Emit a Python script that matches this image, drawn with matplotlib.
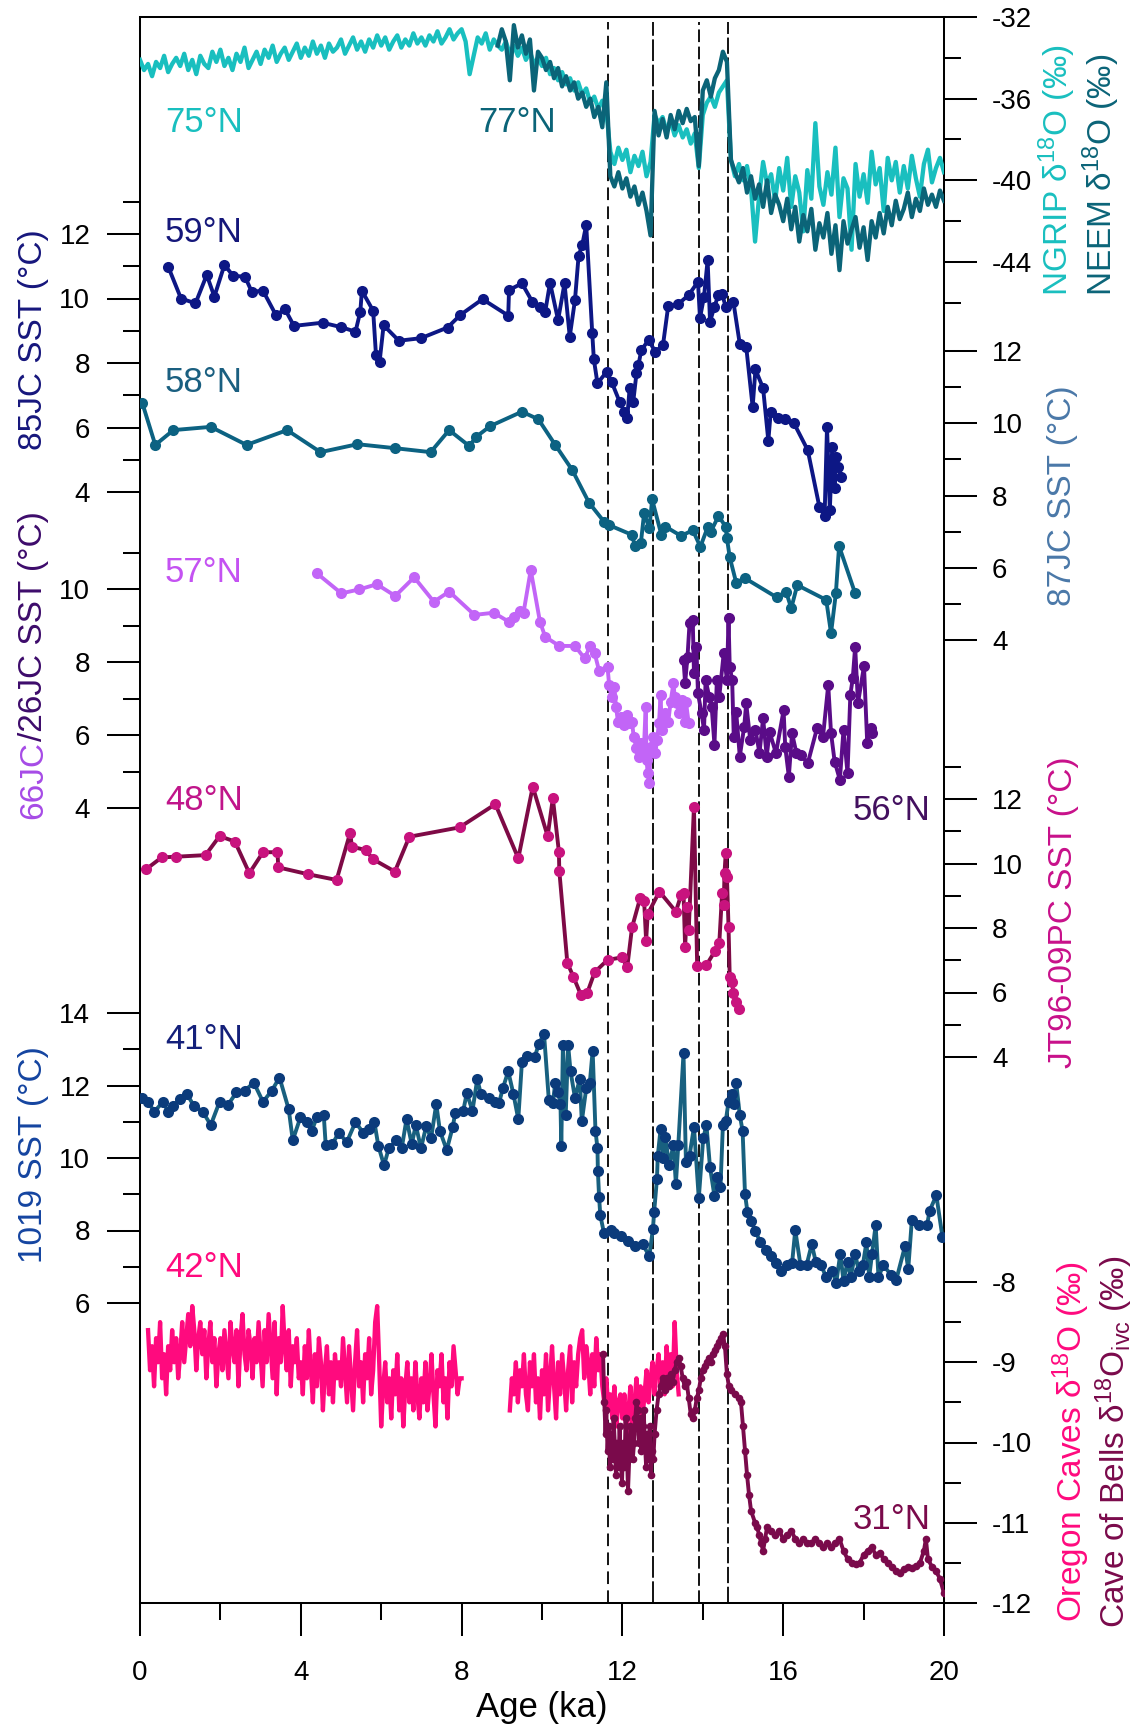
#!/usr/bin/env python3
"""Deglacial SST / d18O stack, 0-20 ka"""

import matplotlib
matplotlib.use("Agg")

import matplotlib.pyplot as plt
import numpy as np

plt.rcParams["font.family"] = ["Liberation Sans", "DejaVu Sans"]
plt.rcParams["mathtext.fontset"] = "custom"
plt.rcParams["mathtext.rm"] = "Liberation Sans"
plt.rcParams["mathtext.default"] = "regular"

# ---------------- data ----------------
# NGRIP d18O, 0-20 ka every 0.1 ka
ngrip_age = np.round(np.arange(0.0, 20.0001, 0.1), 2)
ngrip_d18o = [
    -34.1, -34.6, -34.3, -34.9, -34.2, -34.5, -33.9, -34.7, -34.3, -34.0,
    -34.4, -33.8, -34.6, -34.1, -34.8, -33.9, -34.3, -34.5, -33.7, -34.2,
    -33.6, -34.4, -34.0, -34.6, -33.8, -34.2, -33.5, -34.5, -34.1, -33.7,
    -34.3, -33.6, -34.0, -33.4, -34.2, -33.8, -33.5, -34.1, -33.7, -33.3,
    -34.0, -33.5, -33.9, -33.2, -33.8, -33.4, -34.0, -33.3, -33.7, -33.5,
    -33.1, -33.8, -33.4, -33.0, -33.6, -33.2, -33.7, -33.1, -33.5, -32.9,
    -33.4, -33.0, -33.6, -33.2, -32.9, -33.5, -33.1, -33.4, -32.8, -33.3,
    -33.0, -33.4, -32.9, -33.2, -32.7, -33.3, -33.0, -32.6, -33.1, -32.8,
    -32.6, -33.2, -34.8, -33.9, -33.0, -33.3, -32.8, -33.6, -33.1, -33.4,
    -33.6, -33.2, -33.8, -33.4, -33.9, -33.5, -34.1, -33.7, -34.3, -34.0,
    -34.4, -34.0, -34.8, -34.5, -35.1, -34.7, -35.3, -35.0, -35.6, -35.2,
    -35.8, -35.5, -36.2, -35.9, -36.5, -36.1, -36.6, -38.6, -39.2, -38.4,
    -39.0, -38.5, -39.6, -38.8, -39.3, -38.6, -39.8, -39.1, -36.8, -37.2,
    -36.9, -37.6, -37.1, -37.8, -37.3, -37.9, -37.5, -38.2, -37.7, -39.4,
    -36.8, -36.2, -35.9, -36.4, -35.7, -35.4, -35.1, -39.0, -39.8, -39.2,
    -40.0, -39.3, -40.4, -43.0, -40.8, -39.1, -40.2, -39.7, -41.0, -39.4,
    -40.5, -38.9, -41.3, -39.8, -40.6, -42.5, -39.5, -40.9, -37.2, -40.3,
    -41.2, -39.6, -40.7, -38.4, -41.8, -39.9, -40.4, -43.4, -39.2, -40.8,
    -39.7, -41.1, -38.6, -40.2, -39.4, -41.5, -38.9, -40.0, -39.1, -40.6,
    -39.3, -40.4, -38.8, -39.9, -40.8, -39.2, -38.5, -40.1, -39.4, -38.9,
    -39.6,
]

# NEEM d18O, 8.9-20 ka every 0.1 ka
neem_age = np.round(np.arange(8.9, 20.0001, 0.1), 2)
neem_d18o = [
    -33.4,
    -32.6, -33.2, -35.1, -32.4, -33.5, -32.9, -33.8, -33.1, -35.6, -33.7,
    -34.0, -34.6, -34.2, -35.0, -34.5, -35.4, -34.9, -35.6, -35.2, -36.0,
    -35.7, -36.4, -36.0, -36.9, -36.4, -37.4, -35.2, -39.8, -40.3, -39.6,
    -40.4, -39.9, -40.8, -40.3, -41.2, -40.6, -41.5, -42.7, -36.6, -37.8,
    -37.0, -37.9, -36.8, -37.5, -36.6, -37.2, -36.5, -37.1, -36.9, -39.3,
    -35.6, -35.1, -35.9, -35.0, -34.6, -33.7, -34.2, -39.0, -39.6, -40.1,
    -39.4, -40.6, -39.8, -40.9, -40.2, -41.3, -40.0, -41.6, -40.7, -41.2,
    -42.0, -40.9, -42.4, -41.3, -43.0, -41.7, -42.5, -41.4, -43.4, -42.1,
    -42.8, -41.6, -43.6, -42.2, -44.4, -42.0, -43.1, -42.4, -41.8, -43.3,
    -42.3, -43.9, -42.0, -42.8, -41.6, -42.6, -41.3, -42.2, -41.0, -41.9,
    -41.4, -40.6, -41.8, -40.9, -41.5, -40.4, -41.2, -40.7, -41.3, -40.5,
    -41.0,
]

# 85JC SST (59N)
jc85_age = [
    0.70, 1.02, 1.38, 1.66, 1.85, 2.10, 2.32, 2.61, 2.78, 3.06,
    3.38, 3.61, 3.83, 4.54, 5.01, 5.36, 5.48, 5.52, 5.80, 5.87,
    5.96, 6.06, 6.44, 6.99, 7.65, 7.97, 8.52, 9.16, 9.18, 9.50,
    9.76, 9.95, 10.08, 10.20, 10.40, 10.56, 10.69, 10.82, 10.91, 11.00,
    11.10, 11.25, 11.29, 11.38, 11.61, 11.73, 11.93, 12.05, 12.12, 12.18,
    12.27, 12.35, 12.40, 12.47, 12.65, 12.82, 13.01, 13.14, 13.39, 13.65,
    13.88, 13.93, 14.03, 14.12, 14.18, 14.29, 14.39, 14.48, 14.57, 14.76,
    14.92, 15.08, 15.24, 15.31, 15.50, 15.63, 15.69, 15.88, 16.05, 16.26,
    16.61, 16.90, 17.03, 17.09, 17.16, 17.22, 17.28, 17.32, 17.37, 17.45,
]
jc85_sst = [
    10.99, 10.00, 9.85, 10.73, 10.06, 11.04, 10.70, 10.68, 10.21, 10.24,
    9.49, 9.66, 9.15, 9.25, 9.11, 8.97, 9.59, 10.24, 9.62, 8.25,
    8.04, 9.17, 8.69, 8.77, 9.10, 9.49, 9.98, 9.47, 10.26, 10.47,
    9.90, 9.73, 9.59, 10.49, 9.33, 10.47, 8.82, 9.95, 11.32, 11.66,
    12.28, 8.92, 8.11, 7.37, 7.73, 7.42, 6.80, 6.49, 6.29, 7.22,
    6.80, 7.68, 7.94, 8.40, 8.71, 8.35, 8.56, 9.77, 9.83, 10.11,
    10.52, 9.39, 10.06, 11.19, 9.28, 9.75, 10.11, 10.13, 9.75, 9.90,
    8.59, 8.50, 6.64, 7.80, 7.22, 5.59, 6.49, 6.29, 6.25, 6.15,
    5.30, 3.54, 3.26, 6.02, 3.44, 5.40, 4.11, 5.09, 4.78, 4.47,
]

# 87JC SST (58N)
jc87_age = [
    0.06, 0.38, 0.83, 1.76, 2.65, 3.66, 4.49, 5.41, 6.34, 7.23,
    7.69, 8.19, 8.37, 8.71, 9.50, 9.91, 10.33, 10.75, 11.17, 11.54,
    11.67, 12.24, 12.31, 12.46, 12.54, 12.67, 12.74, 12.97, 13.07, 13.46,
    13.75, 13.94, 14.12, 14.20, 14.39, 14.57, 14.60, 14.67, 14.83, 15.05,
    15.84, 16.07, 16.20, 16.35, 17.07, 17.19, 17.31, 17.39, 17.79,
]
jc87_sst = [
    10.55, 9.40, 9.81, 9.90, 9.40, 9.81, 9.20, 9.42, 9.31, 9.20,
    9.81, 9.37, 9.63, 9.92, 10.32, 10.11, 9.40, 8.71, 7.80, 7.28,
    7.18, 6.91, 6.60, 6.69, 7.51, 7.09, 7.89, 6.91, 7.14, 6.88,
    7.04, 6.58, 7.12, 7.00, 7.43, 7.14, 6.82, 6.29, 5.59, 5.71,
    5.18, 5.34, 4.88, 5.52, 5.11, 4.19, 5.29, 6.60, 5.29,
]

# 66JC SST (57N)
jc66_age = [
    4.40, 5.01, 5.46, 5.89, 6.35, 6.82, 7.31, 7.69, 8.32, 8.80,
    9.18, 9.31, 9.46, 9.54, 9.72, 9.95, 10.08, 10.43, 10.82, 11.06,
    11.20, 11.31, 11.42, 11.63, 11.67, 11.73, 11.80, 11.84, 11.89, 11.96,
    12.05, 12.12, 12.18, 12.24, 12.28, 12.35, 12.41, 12.47, 12.53, 12.58,
    12.60, 12.63, 12.67, 12.70, 12.76, 12.82, 12.86, 12.91, 12.95, 12.98,
    13.07, 13.14, 13.20, 13.27, 13.30, 13.37, 13.42, 13.48, 13.55, 13.58,
    13.65,
]
jc66_sst = [
    10.43, 9.88, 9.99, 10.13, 9.81, 10.32, 9.65, 9.93, 9.29, 9.35,
    9.10, 9.24, 9.41, 9.35, 10.52, 9.10, 8.69, 8.44, 8.44, 8.10,
    8.44, 8.24, 7.76, 7.87, 7.37, 7.05, 7.32, 6.78, 6.36, 6.50,
    6.27, 6.55, 6.32, 6.36, 5.95, 5.64, 5.41, 5.77, 5.50, 6.78,
    5.32, 4.95, 4.68, 5.68, 5.95, 5.50, 5.86, 6.32, 7.10, 6.14,
    6.59, 6.36, 6.91, 7.42, 7.05, 6.87, 6.59, 6.96, 6.36, 6.91,
    6.32,
]

# 26JC SST (56N)
jc26_age = [
    13.52, 13.56, 13.62, 13.67, 13.75, 13.78, 13.84, 13.88, 13.97, 14.03,
    14.07, 14.16, 14.22, 14.29, 14.35, 14.41, 14.52, 14.60, 14.64, 14.67,
    14.73, 14.77, 14.83, 14.92, 15.03, 15.08, 15.18, 15.31, 15.41, 15.50,
    15.59, 15.66, 15.82, 16.01, 16.05, 16.14, 16.22, 16.33, 16.45, 16.61,
    16.84, 16.99, 17.12, 17.19, 17.28, 17.41, 17.50, 17.60, 17.67, 17.73,
    17.79, 17.86, 18.01, 18.09, 18.18, 18.21,
]
jc26_sst = [
    8.05, 7.42, 8.15, 9.06, 9.15, 7.69, 8.42, 7.14, 6.59, 6.14,
    7.51, 7.05, 6.78, 5.73, 7.51, 7.05, 8.24, 7.51, 9.20, 7.87,
    7.51, 5.95, 6.64, 5.41, 6.23, 6.87, 5.86, 6.14, 5.50, 6.46,
    5.41, 6.09, 5.50, 6.68, 5.68, 4.86, 6.05, 5.50, 5.45, 5.22,
    6.18, 5.95, 7.37, 6.05, 5.27, 4.77, 6.14, 4.95, 7.10, 7.55,
    8.42, 6.87, 7.89, 5.77, 6.18, 6.05,
]

# JT96-09PC SST (48N)
jt96_age = [
    0.15, 0.54, 0.89, 1.63, 1.98, 2.36, 2.72, 3.06, 3.42, 3.44,
    4.17, 4.89, 5.23, 5.27, 5.61, 5.80, 6.34, 6.70, 7.95, 8.84,
    9.41, 9.77, 10.14, 10.27, 10.42, 10.43, 10.63, 10.78, 10.97, 11.12,
    11.31, 11.63, 11.99, 12.12, 12.24, 12.44, 12.54, 12.59, 12.63, 12.92,
    13.33, 13.46, 13.52, 13.56, 13.61, 13.65, 13.78, 13.86, 14.09, 14.31,
    14.41, 14.48, 14.52, 14.54, 14.57, 14.60, 14.64, 14.67, 14.73, 14.76,
    14.82, 14.89,
]
jt96_sst = [
    9.82, 10.19, 10.21, 10.26, 10.85, 10.68, 9.70, 10.35, 10.35, 9.88,
    9.67, 9.49, 10.96, 10.52, 10.42, 10.13, 9.75, 10.83, 11.12, 11.84,
    10.16, 12.38, 10.85, 12.02, 10.37, 9.78, 6.92, 6.49, 5.92, 5.97,
    6.63, 7.01, 7.09, 6.78, 8.02, 8.92, 8.85, 7.61, 8.43, 9.13,
    8.51, 9.02, 9.09, 7.42, 8.66, 7.94, 11.76, 6.82, 6.85, 7.30,
    7.53, 9.08, 8.71, 9.70, 10.32, 9.59, 8.04, 6.49, 6.33, 5.98,
    5.72, 5.49,
]

# ODP 1019 SST (41N)
odp1019_age = [
    0.06, 0.19, 0.36, 0.57, 0.70, 0.83, 0.99, 1.17, 1.34, 1.56,
    1.76, 1.98, 2.19, 2.40, 2.61, 2.83, 3.06, 3.28, 3.47, 3.70,
    3.80, 3.99, 4.15, 4.27, 4.40, 4.57, 4.62, 4.78, 4.95, 5.14,
    5.36, 5.55, 5.70, 5.83, 5.93, 6.07, 6.19, 6.38, 6.51, 6.63,
    6.76, 6.86, 6.99, 7.12, 7.24, 7.37, 7.46, 7.63, 7.78, 7.84,
    8.04, 8.13, 8.27, 8.39, 8.48, 8.67, 8.83, 8.93, 9.03, 9.16,
    9.29, 9.41, 9.50, 9.63, 9.82, 9.92, 10.05, 10.17, 10.27, 10.33,
    10.40, 10.46, 10.48, 10.52, 10.59, 10.65, 10.71, 10.82, 10.94, 10.99,
    11.10, 11.19, 11.26, 11.33, 11.38, 11.39, 11.42, 11.45, 11.54, 11.71,
    11.80, 11.96, 12.14, 12.31, 12.50, 12.67, 12.76, 12.79, 12.86, 12.88,
    12.95, 13.01, 13.07, 13.16, 13.27, 13.33, 13.39, 13.52, 13.58, 13.67,
    13.78, 13.90, 14.01, 14.09, 14.18, 14.29, 14.35, 14.44, 14.50, 14.57,
    14.64, 14.73, 14.77, 14.83, 14.92, 14.99, 15.05, 15.11, 15.20, 15.31,
    15.43, 15.56, 15.69, 15.82, 15.94, 16.10, 16.22, 16.30, 16.43, 16.58,
    16.71, 16.81, 16.94, 17.07, 17.22, 17.32, 17.42, 17.50, 17.60, 17.68,
    17.79, 17.88, 17.98, 18.07, 18.14, 18.21, 18.30, 18.37, 18.49, 18.69,
    18.81, 19.03, 19.11, 19.20, 19.39, 19.58, 19.64, 19.81, 19.96,
]
odp1019_sst = [
    11.66, 11.55, 11.28, 11.55, 11.28, 11.44, 11.62, 11.76, 11.44, 11.28,
    10.91, 11.55, 11.47, 11.81, 11.86, 12.08, 11.55, 11.86, 12.22, 11.34,
    10.49, 11.12, 10.99, 10.75, 11.12, 11.20, 10.35, 10.38, 10.70, 10.43,
    10.99, 10.70, 10.80, 10.99, 10.33, 9.80, 10.27, 10.49, 10.27, 11.07,
    10.38, 10.91, 10.27, 10.88, 10.54, 11.49, 10.75, 10.22, 10.86, 11.23,
    11.30, 11.79, 11.30, 12.18, 11.76, 11.65, 11.55, 11.51, 11.94, 12.39,
    11.76, 11.07, 12.64, 12.82, 12.79, 13.14, 13.43, 11.60, 11.51, 12.08,
    11.81, 11.49, 10.33, 13.11, 11.18, 13.11, 12.39, 11.66, 12.18, 11.01,
    11.92, 12.08, 12.96, 10.75, 10.27, 9.64, 8.93, 8.42, 7.94, 8.01,
    7.94, 7.86, 7.70, 7.57, 7.62, 7.30, 8.05, 8.52, 9.43, 10.06,
    10.80, 10.01, 10.59, 9.80, 10.35, 9.29, 10.35, 12.89, 9.90, 10.06,
    10.86, 8.89, 10.54, 10.91, 9.74, 8.95, 9.48, 9.21, 10.91, 11.01,
    11.55, 11.76, 11.49, 12.08, 11.18, 10.75, 9.00, 8.52, 8.26, 7.99,
    7.67, 7.46, 7.30, 7.09, 6.88, 7.04, 7.09, 8.01, 7.04, 7.04,
    7.62, 7.14, 7.04, 6.72, 6.88, 6.56, 7.36, 6.61, 7.14, 6.72,
    7.36, 6.88, 7.04, 7.67, 6.72, 7.36, 8.15, 6.72, 7.04, 6.77,
    6.63, 7.57, 6.93, 8.29, 8.15, 8.15, 8.54, 8.97, 7.83,
]

# Oregon Caves d18O (42N), two pieces either side of the gap
oregon_age_a = np.round(np.arange(0.20, 8.0001, 0.05), 2)
oregon_d18o_a = [
    -8.6, -9.1, -8.8, -9.3, -8.7, -9.0, -8.5, -9.2, -8.9, -9.4, -8.8, -9.1, -8.6, -9.0, -8.7, -9.2,
    -8.9, -8.5, -9.0, -8.7, -8.4, -8.8, -8.3, -8.6, -9.1, -8.7, -8.5, -8.9, -8.6, -9.2, -8.8, -8.5, -9.0, -8.7, -9.3, -8.9,
    -8.7, -9.1, -8.6, -8.9, -9.2, -8.5, -8.8, -9.0, -8.6, -9.3, -8.7, -8.4, -8.9, -9.1, -8.6, -8.8, -9.2, -8.7, -9.0, -8.5,
    -8.9, -9.3, -8.6, -9.0, -8.4, -8.8, -9.2, -8.5, -9.4, -8.7, -9.0, -8.3, -8.8, -9.1, -8.6, -9.3, -8.8, -9.0, -8.7, -9.2,
    -9.0, -9.4, -8.8, -9.2, -8.6, -9.1, -9.5, -8.9, -9.3, -8.7, -9.0, -9.6, -9.1, -8.8, -9.4, -9.0, -9.5, -8.9, -9.2, -9.0,
    -9.3, -8.7, -9.1, -9.5, -8.8, -9.2, -9.6, -9.0, -8.6, -9.3, -9.0, -9.5, -8.9, -9.2, -8.7, -9.4, -9.1, -8.5, -8.3, -9.0,
    -9.8, -9.3, -9.0, -9.5, -9.2, -9.7, -9.1, -9.4, -8.9, -9.6, -9.2, -9.8, -9.3, -9.0, -9.5, -9.2, -9.6, -9.0, -9.4, -9.7,
    -9.2, -9.5, -9.0, -9.6, -9.3, -8.9, -9.4, -9.8, -9.1, -9.3, -8.9, -9.5, -9.2, -9.7, -9.0, -9.3, -8.8, -9.1, -9.4, -9.2,
    -9.2,
]
oregon_age_b = np.round(np.arange(9.20, 13.4001, 0.05), 2)
oregon_d18o_b = [
    -9.6, -9.2, -9.4, -9.0, -9.5, -9.1, -9.3, -8.9, -9.4, -9.6, -9.0, -9.3, -8.9, -9.5, -9.2, -9.7,
    -9.1, -9.4, -8.9, -9.6, -9.2, -8.8, -9.3, -9.7, -9.0, -9.4, -8.9, -9.2, -9.6, -9.1, -8.8, -9.5, -9.0, -9.3, -8.9, -8.7,
    -8.6, -9.2, -8.8, -9.0, -9.4, -8.9, -9.3, -8.7, -9.1, -8.9, -9.3, -9.5, -9.2, -9.6, -9.4, -9.7, -9.3, -9.8, -9.5, -9.4,
    -9.7, -9.4, -9.9, -9.6, -9.3, -9.8, -9.5, -9.2, -9.6, -9.3, -9.7, -9.4, -9.1, -9.5, -9.2, -9.0, -9.4, -9.1, -8.9, -9.3,
    -9.0, -9.4, -8.8, -9.2, -8.9, -9.3, -8.5, -9.1, -9.4,
]

# Cave of Bells d18O_ivc (31N)
bells_age = [
    11.52, 11.55, 11.58, 11.60, 11.63, 11.66, 11.69, 11.72, 11.75, 11.78,
    11.81, 11.84, 11.87, 11.90, 11.93, 11.96, 11.99, 12.02, 12.05, 12.08,
    12.11, 12.14, 12.17, 12.20, 12.23, 12.26, 12.29, 12.32, 12.35, 12.38,
    12.41, 12.44, 12.47, 12.50, 12.53, 12.56, 12.59, 12.62, 12.65, 12.68,
    12.71, 12.74, 12.77, 12.80, 12.85, 12.90, 12.95, 13.00, 13.05, 13.10,
    13.15, 13.20, 13.25, 13.30, 13.35, 13.40, 13.45, 13.50, 13.55, 13.60,
    13.65, 13.70, 13.75, 13.80, 13.85, 13.90, 13.95, 14.00, 14.05, 14.10,
    14.15, 14.20, 14.25, 14.30, 14.35, 14.40, 14.45, 14.50, 14.55, 14.60,
    14.65, 14.70, 14.80, 14.90, 14.95, 15.00, 15.05, 15.10, 15.15, 15.20,
    15.30, 15.35, 15.40, 15.45, 15.50, 15.55, 15.60, 15.70, 15.80, 15.90,
    16.00, 16.10, 16.20, 16.30, 16.40, 16.50, 16.60, 16.70, 16.80, 16.90,
    17.00, 17.10, 17.20, 17.30, 17.40, 17.50, 17.60, 17.70, 17.80, 17.90,
    18.00, 18.10, 18.20, 18.30, 18.40, 18.50, 18.60, 18.70, 18.80, 18.90,
    19.00, 19.10, 19.20, 19.30, 19.40, 19.50, 19.55, 19.60, 19.70, 19.80,
    19.90, 20.00,
]
bells_d18o = [
    -8.90, -9.50, -9.90, -9.60, -10.10, -9.80, -10.30, -9.90, -10.20, -9.70,
    -10.00, -10.40, -10.00, -10.30, -9.80, -10.20, -10.50, -10.00, -10.30, -9.70,
    -10.10, -10.60, -10.20, -9.80, -9.90, -10.20, -10.00, -9.70, -9.50, -9.60,
    -10.00, -9.70, -10.10, -9.80, -9.60, -10.00, -10.30, -9.90, -10.20, -9.80,
    -10.40, -10.10, -10.20, -9.90, -9.60, -9.40, -9.30, -9.20, -9.35, -9.20,
    -9.30, -9.15, -9.25, -9.10, -9.00, -8.95, -9.05, -9.20, -9.30, -9.25,
    -9.45, -9.65, -9.70, -9.60, -9.45, -9.35, -9.20, -9.10, -9.05, -9.00,
    -8.95, -9.00, -8.90, -8.85, -8.80, -8.75, -8.70, -8.65, -8.80, -9.15,
    -9.30, -9.35, -9.40, -9.45, -9.50, -9.80, -10.10, -10.40, -10.65, -10.85,
    -11.00, -11.05, -11.15, -11.25, -11.35, -11.20, -11.05, -11.10, -11.15, -11.10,
    -11.20, -11.15, -11.10, -11.20, -11.25, -11.20, -11.25, -11.25, -11.20, -11.25,
    -11.30, -11.25, -11.30, -11.25, -11.20, -11.35, -11.45, -11.50, -11.52, -11.50,
    -11.40, -11.35, -11.30, -11.40, -11.38, -11.45, -11.50, -11.55, -11.60, -11.62,
    -11.58, -11.55, -11.57, -11.54, -11.50, -11.35, -11.20, -11.45, -11.55, -11.60,
    -11.70, -11.88,
]

event_ages = [11.65, 12.77, 13.9, 14.62]

# ---------------- layout (pixels of the 1143 x 1732 image) ----------------
W, H = 1143, 1732
L, R, T, B = 140, 944, 17, 1603

C_NGRIP = "#19bfbf"
C_NEEM = "#0b6478"
C_85 = "#0d1785"
C_87 = "#0c6282"
C_66 = "#c265f7"
C_26 = "#5a0c88"
C_JT_LINE = "#7e0a46"
C_JT_DOT = "#c8137e"
C_1019_LINE = "#18607f"
C_1019_DOT = "#0b3b7b"
C_OREGON = "#ff0a7e"
C_BELLS = "#7a0a4b"

TICK_FS = 20
LABEL_FS = 24
LAT_FS = 25
MAJ, MIN, TW = 23.8, 12.2, 1.45

fig = plt.figure(figsize=(W / 100, H / 100), dpi=100)
ax = fig.add_axes([L / W, 1 - B / H, (R - L) / W, (B - T) / H])
ax.set_xlim(0, 20)
ax.set_ylim(0, 1)
ax.set_yticks([])
ax.set_xticks([0, 4, 8, 12, 16, 20])
ax.set_xticks([2, 6, 10, 14, 18], minor=True)
ax.tick_params(axis="x", which="major", direction="out", length=MAJ, width=TW,
               labelsize=TICK_FS, pad=17)
ax.tick_params(axis="x", which="minor", direction="out", length=MIN, width=TW)
for sp in ax.spines.values():
    sp.set_linewidth(TW)

fig.text((L + R) / 2 / W, 1 - 1708 / H, "Age (ka)", fontsize=25,
         ha="center", va="center")

dash_styles = [(7, 3.5), (12, 2), (7, 2.5), (9, 2)]
for a, d in zip(event_ages, dash_styles):
    ax.axvline(a, ymin=0, ymax=0.997, color="black", lw=1.3, dashes=d, zorder=1)


def make_axis(side, major, minor, v1, p1, v2, p2):
    """twin axis whose values v1, v2 sit at image rows p1, p2"""
    t = ax.twinx()
    for sp in t.spines.values():
        sp.set_visible(False)
    s = (v1 - v2) / (p1 - p2)
    t.set_ylim(v1 + s * (B - p1), v1 + s * (T - p1))
    t.set_yticks(major)
    t.set_yticklabels([str(int(v)) for v in major])
    t.set_yticks(minor, minor=True)
    if side == "left":
        t.yaxis.tick_left()
        pad = 12
    else:
        t.yaxis.tick_right()
        pad = 10.8
    t.tick_params(axis="y", which="major", direction="out", length=MAJ, width=TW,
                  labelsize=TICK_FS, pad=pad)
    t.tick_params(axis="y", which="minor", direction="out", length=MIN, width=TW)
    return t


ax_ice = make_axis("right", [-32, -36, -40, -44], [-34, -38, -42, -46], -32, 17, -44, 262)
ax_85 = make_axis("left", [4, 6, 8, 10, 12], [5, 7, 9, 11, 13], 12, 234, 4, 492)
ax_87 = make_axis("right", [4, 6, 8, 10, 12], [5, 7, 9, 11], 12, 351, 4, 640)
ax_66 = make_axis("left", [4, 6, 8, 10], [5, 7, 9, 11], 10, 589, 4, 808)
ax_jt = make_axis("right", [4, 6, 8, 10, 12], [5, 7, 9, 11, 13], 12, 799, 4, 1057)
ax_19 = make_axis("left", [6, 8, 10, 12, 14], [7, 9, 11, 13], 14, 1013, 6, 1303)
ax_cv = make_axis("right", [-8, -9, -10, -11, -12], [-8.5, -9.5, -10.5, -11.5], -8, 1282, -12, 1603)

# ---------------- series ----------------
ax_ice.plot(ngrip_age, ngrip_d18o, color=C_NGRIP, lw=3.1)
ax_ice.plot(neem_age, neem_d18o, color=C_NEEM, lw=3.1)

dot = dict(marker="o", markersize=8, markeredgewidth=0, lw=2.8)
ax_85.plot(jc85_age, jc85_sst, color=C_85, **dot)
ax_87.plot(jc87_age, jc87_sst, color=C_87, **dot)
ax_66.plot(jc66_age, jc66_sst, color=C_66, **dot)
ax_66.plot(jc26_age, jc26_sst, color=C_26, **dot)
ax_jt.plot(jt96_age, jt96_sst, color=C_JT_LINE, markerfacecolor=C_JT_DOT, **dot)
ax_19.plot(odp1019_age, odp1019_sst, color=C_1019_LINE, markerfacecolor=C_1019_DOT, **dot)

ax_cv.plot(oregon_age_a, oregon_d18o_a, color=C_OREGON, lw=3.1)
ax_cv.plot(oregon_age_b, oregon_d18o_b, color=C_OREGON, lw=3.1)
ax_cv.plot(bells_age, bells_d18o, color=C_BELLS, lw=2.8, marker="o",
           markersize=5.5, markeredgewidth=0)

# ---------------- latitude tags ----------------
lat_tags = [
    ("75°N", 165, 120, C_NGRIP), ("77°N", 478, 120, C_NEEM),
    ("59°N", 165, 230, "#15177a"), ("58°N", 165, 380, "#1a5f80"),
    ("57°N", 165, 570, "#c452f2"), ("48°N", 165, 798, "#c0158a"),
    ("56°N", 853, 808, "#43105f"), ("41°N", 165, 1037, "#14207a"),
    ("42°N", 165, 1265, C_OREGON), ("31°N", 853, 1517, C_BELLS),
]
for txt, x, y, c in lat_tags:
    fig.text(x / W, 1 - (y + 12) / H, txt, color=c, fontsize=LAT_FS,
             ha="left", va="baseline")

# ---------------- rotated axis titles ----------------
renderer = fig.canvas.get_renderer()


def side_label(parts, x_base, y_mid):
    pieces = [fig.text(0, 0, s, color=c, fontsize=LABEL_FS, rotation=90,
                       rotation_mode="anchor", ha="left", va="baseline")
              for s, c in parts]
    lens = [p.get_window_extent(renderer).height for p in pieces]
    y0 = (H - y_mid) - sum(lens) / 2
    for p, n in zip(pieces, lens):
        p.set_position((x_base / W, y0 / H))
        y0 += n


side_label([("NGRIP δ$^{18}$O (‰)", C_NGRIP)], 1068, 170)
side_label([("NEEM δ$^{18}$O (‰)", C_NEEM)], 1112, 175)
side_label([("87JC SST (°C)", "#4a78a8")], 1071, 496)
side_label([("JT96-09PC SST (°C)", "#c8108a")], 1072, 912)
side_label([("Oregon Caves δ$^{18}$O (‰)", C_OREGON)], 1082, 1441)
side_label([("Cave of Bells δ$^{18}$O$_{ivc}$ (‰)", C_BELLS)], 1125, 1442)
side_label([("85JC SST (°C)", "#16167c")], 42, 340)
side_label([("66JC", "#a64be6"), ("/26JC SST (°C)", "#3d0b6b")], 42, 665)
side_label([("1019 SST (°C)", "#1444a0")], 42, 1155)

fig.savefig("out.png", dpi=100)
plt.close(fig)
